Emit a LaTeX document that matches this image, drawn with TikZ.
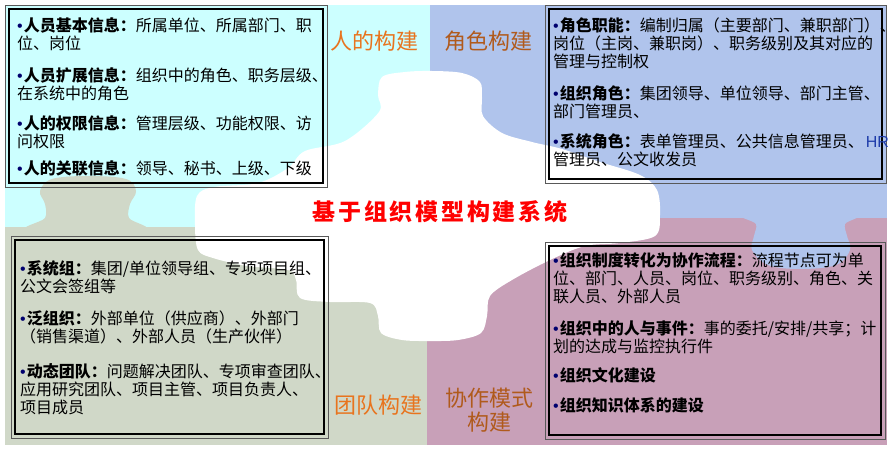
\documentclass[tikz,border=0pt]{standalone}
\usepackage{fontspec}
\setmainfont{Noto Sans CJK SC}
\newfontfamily\hrfont{Liberation Sans}
\definecolor{cyanbg}{RGB}{204,255,255}
\definecolor{bluebg}{RGB}{176,196,236}
\definecolor{graybg}{RGB}{208,216,200}
\definecolor{mauvebg}{RGB}{200,160,184}
\definecolor{orangeA}{RGB}{232,116,30}
\definecolor{brownA}{RGB}{176,90,28}
\definecolor{navyA}{RGB}{0,0,110}
\definecolor{hrblue}{RGB}{30,60,170}
\newcommand\mybul{{\hrfont\color{navyA}•}\hspace{1pt}}
\newcommand\mystrut{\rule{0pt}{14pt}}
\begin{document}
\begin{tikzpicture}[x=1pt,y=-1pt,
  txt/.style={anchor=north west, inner sep=0pt, align=left, font=\fontsize{16}{18}\selectfont},
  lbl/.style={inner sep=0pt, font=\fontsize{22}{24}\selectfont},
  boxouter/.style={draw=black!65, line width=0.8pt},
  boxinner/.style={draw=black, line width=1.1pt}]
\useasboundingbox (0,0) rectangle (894,450);
% quadrants
\fill[cyanbg] (5,5) rectangle (430,227);
\fill[bluebg] (430,5) rectangle (887,218);
\fill[graybg] (5,227) rectangle (427,445);
\fill[mauvebg] (427,218) rectangle (887,445);
% gray tab into cyan
\fill[graybg] plot[smooth cycle, tension=0.6] coordinates {(30,230)(45,218)(45,204)(40,191)(52,179)(88,176)(126,179)(136,191)(130,204)(129,218)(142,230)};
% blue tab into mauve
\fill[bluebg] plot[smooth cycle, tension=0.6] coordinates {(745,214)(756,224)(754,236)(752,250)(768,265)(800,269)(836,265)(850,250)(847,236)(845,224)(854,214)};
% white central piece
\fill[white] plot[smooth cycle, tension=0.55] coordinates {
 (378,95)(382,77)(405,72)(432,71)(462,73)(480,82)(482,98)(483,116)(502,133)(532,142)
 (562,149)(600,162)(640,175)(657,190)(660,215)(655,236)(620,243)(585,246)(550,260)
 (512,280)(490,296)(487,316)(481,333)(458,340)(430,341)(402,340)(381,333)(378,316)
 (370,303)(330,302)(300,298)(296,280)(288,270)(247,266)(213,258)(198,250)(195,225)
 (197,196)(214,187)(258,183)(288,168)(305,151)(345,141)(379,112)};
% boxes
\draw[boxouter] (5,5) rectangle (327,187);
\draw[boxinner] (9,9) rectangle (323,183);
\draw[boxouter] (545,5) rectangle (886,183);
\draw[boxinner] (549,9) rectangle (882,179);
\draw[boxouter] (11,236) rectangle (328,438);
\draw[boxinner, line width=1.5pt] (15,240) rectangle (324,434);
\draw[boxouter] (545,242) rectangle (885,439);
\draw[boxinner] (549,246) rectangle (881,435);
% box 1
\node[txt] (a1) at (17,17) {\mystrut\mybul\textbf{人员基本信息：}所属单位、所属部门、职\\位、岗位};
\node[txt] (a2) at (17,67) {\mystrut\mybul\textbf{人员扩展信息：}组织中的角色、职务层级、\\在系统中的角色};
\node[txt] (a3) at (17,115) {\mystrut\mybul\textbf{人的权限信息：}管理层级、功能权限、访\\问权限};
\node[txt] (a4) at (17,160) {\mystrut\mybul\textbf{人的关联信息：}领导、秘书、上级、下级};
% box 2
\node[txt] (b1) at (553,17) {\mystrut\mybul\textbf{角色职能：}编制归属（主要部门、兼职部门）、\\岗位（主岗、兼职岗）、职务级别及其对应的\\管理与控制权};
\node[txt] (b2) at (553,85) {\mystrut\mybul\textbf{组织角色：}集团领导、单位领导、部门主管、\\部门管理员、};
\node[txt] (b3) at (553,133) {\mystrut\mybul\textbf{系统角色：}表单管理员、公共信息管理员、\hspace{2pt}{\hrfont\color{hrblue}HR}\\管理员、公文收发员};
% box 3
\node[txt] (c1) at (20,260) {\mystrut\mybul\textbf{系统组：}集团/单位领导组、专项项目组、\\公文会签组等};
\node[txt] (c2) at (20,310) {\mystrut\mybul\textbf{泛组织：}外部单位（供应商）、外部门\\（销售渠道）、外部人员（生产伙伴）};
\node[txt] (c3) at (20,363) {\mystrut\mybul\textbf{动态团队：}问题解决团队、专项审查团队、\\应用研究团队、项目主管、项目负责人、\\项目成员};
% box 4
\node[txt] (d1) at (553,252) {\mystrut\mybul\textbf{组织制度转化为协作流程：}流程节点可为单\\位、部门、人员、岗位、职务级别、角色、关\\联人员、外部人员};
\node[txt] (d2) at (553,320) {\mystrut\mybul\textbf{组织中的人与事件：}事的委托/安排/共享；计\\划的达成与监控执行件};
\node[txt] (d3) at (553,367) {\mystrut\mybul\textbf{组织文化建设}};
\node[txt] (d4) at (553,397) {\mystrut\mybul\textbf{组织知识体系的建设}};
% labels
\node[lbl, text=orangeA] (l1) at (374,41) {人的构建};
\node[lbl, text=brownA] (l2) at (488,41) {角色构建};
\node[lbl, text=orangeA] (l3) at (378,405) {团队构建};
\node[lbl, text=brownA, align=center] (l4) at (489,410) {协作模式\\构建};
% title
\node[inner sep=0pt, text=red, font=\fontsize{23}{26}\selectfont\bfseries\addfontfeature{LetterSpace=12}] (title) at (440,212) {基于组织模型构建系统};
\end{tikzpicture}
\end{document}
